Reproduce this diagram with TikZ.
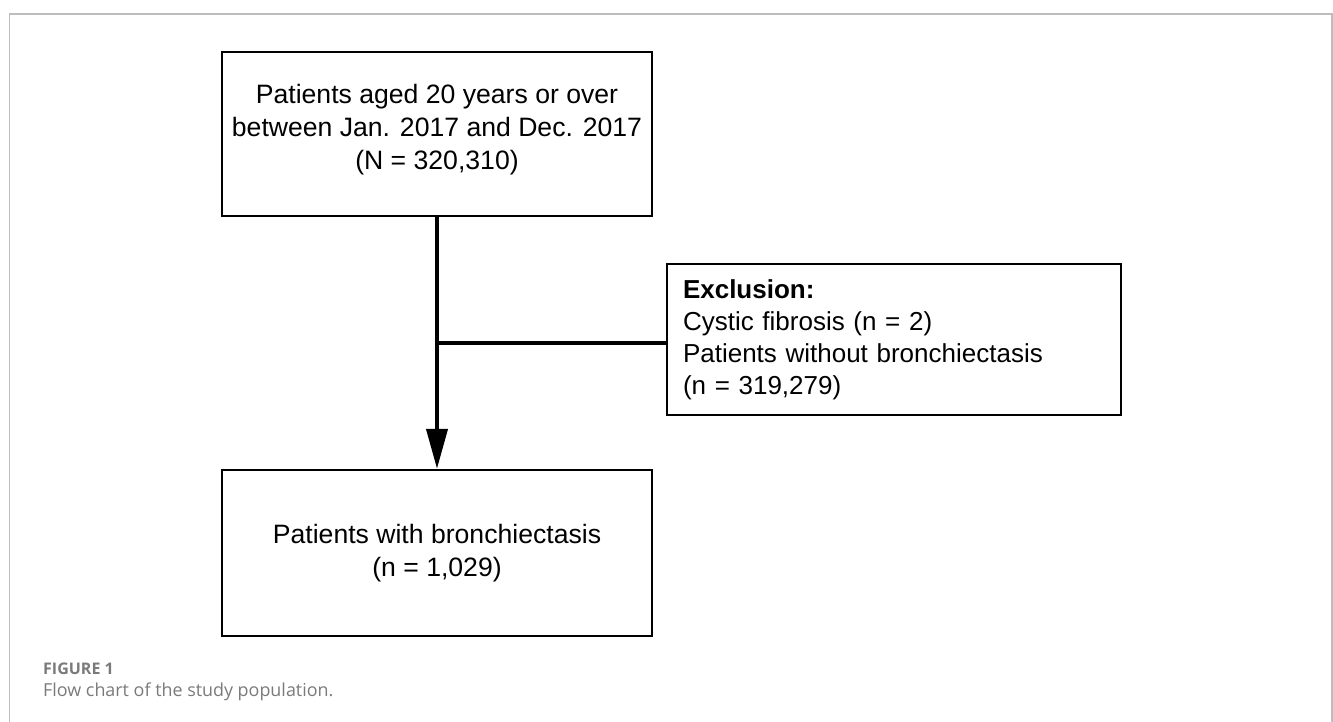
\documentclass[tikz,border=0pt]{standalone}
\usepackage{fontspec}
\setmainfont{Liberation Sans}
\newfontfamily\capfont{Open Sans}
\usetikzlibrary{arrows.meta}
\definecolor{framegray}{HTML}{BDBDBD}
\definecolor{capgray}{HTML}{7A7A7A}
\tikzset{
  box/.style={draw=black, line width=2.3pt, rectangle, align=center,
    font=\fontsize{26.6}{33}\selectfont, inner sep=0pt},
  exbox/.style={draw=black, line width=2.3pt, rectangle, align=left,
    font=\fontsize{26}{32}\selectfont, inner xsep=16pt, inner ysep=0pt,
    text width=422pt, minimum width=454pt, minimum height=151pt},
  conn/.style={line width=4pt, draw=black},
  arr/.style={conn, -{Triangle[width=21pt,length=40pt]}},
  caphead/.style={font=\capfont\bfseries\fontsize{16}{19}\selectfont, text=capgray, anchor=west, inner sep=0pt},
  captext/.style={font=\capfont\fontsize{17.9}{22}\selectfont, text=capgray, anchor=west, inner sep=0pt}
}
\begin{document}
\begin{tikzpicture}[x=1pt,y=-1pt]
\useasboundingbox (0,0) rectangle (1333,722);
\draw[framegray, line width=1.3pt] (9.5,722) -- (9.5,14) -- (1332,14) -- (1332,722);
\node[box, minimum width=430pt, minimum height=164pt] (top) at (437,134)
  {Patients aged 20 years or over\\between Jan. 2017 and Dec. 2017\\(N = 320,310)\rule[-14pt]{0pt}{0pt}};
\node[box, minimum width=430pt, minimum height=166pt] (bot) at (437,553)
  {Patients with bronchiectasis\\(n = 1,029)};
\node[exbox] (excl) at (894,339.5)
  {\textbf{Exclusion:}\\Cystic fibrosis (n = 2)\\Patients without bronchiectasis\\(n = 319,279)};
\draw[arr] (top.south) -- (bot.north);
\coordinate (j) at (437,343);
\draw[conn] (j) -- (j -| excl.west);
\node[caphead] (fig) at (43,669) {FIGURE 1};
\node[captext] (cap) at (43,692) {Flow chart of the study population.};
\end{tikzpicture}
\end{document}
